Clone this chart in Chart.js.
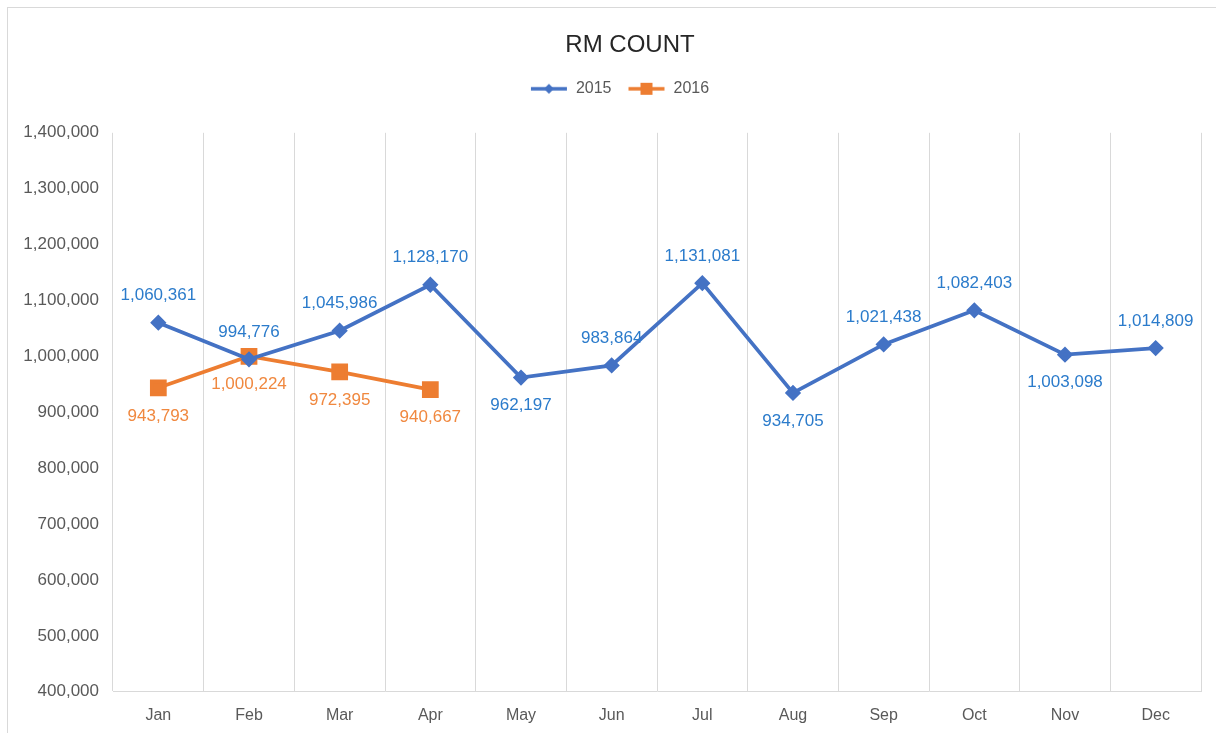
<!DOCTYPE html>
<html>
<head>
<meta charset="utf-8">
<script src="https://cdn.jsdelivr.net/npm/chart.js@4/dist/chart.umd.min.js"></script>
<style>
  html, body { margin: 0; padding: 0; background: #fff; }
  #wrap { position: relative; width: 1216px; height: 733px; }
  #frame { position: absolute; left: 7px; top: 7px; width: 1220px; height: 740px; border: 1px solid #d9d9d9; box-sizing: border-box; pointer-events: none; }
</style>
</head>
<body>
<div id="wrap">
  <canvas id="rmChart" width="1216" height="733"></canvas>
  <div id="frame"></div>
</div>
<script>
const months = ['Jan', 'Feb', 'Mar', 'Apr', 'May', 'Jun', 'Jul', 'Aug', 'Sep', 'Oct', 'Nov', 'Dec'];
const count2015 = [1060361, 994776, 1045986, 1128170, 962197, 983864, 1131081, 934705, 1021438, 1082403, 1003098, 1014809];
const count2016 = [943793, 1000224, 972395, 940667];

// where each data label sits relative to its point
const labelSide2015 = ['up', 'up', 'up', 'up', 'down', 'up', 'up', 'down', 'up', 'up', 'down', 'up'];
const labelSide2016 = ['down', 'down', 'down', 'down'];

const FONT = "'Liberation Sans', Arial, sans-serif";

function legendIcon(color, marker) {
    const c = document.createElement('canvas');
    c.width = 38; c.height = 16;
    const g = c.getContext('2d');
    g.strokeStyle = color;
    g.fillStyle = color;
    g.lineWidth = 3.5;
    g.beginPath(); g.moveTo(1, 8); g.lineTo(37, 8); g.stroke();
    if (marker === 'diamond') {
        g.beginPath(); g.moveTo(19, 3); g.lineTo(24, 8); g.lineTo(19, 13); g.lineTo(14, 8); g.closePath(); g.fill();
    } else {
        g.fillRect(13, 2, 12, 12);
    }
    return c;
}

const icons = [legendIcon('#4472C4', 'diamond'), legendIcon('#ED7D31', 'square')];

const dataLabels = {
    id: 'dataLabels',
    afterDatasetsDraw(chart) {
        const ctx = chart.ctx;
        const sides = [labelSide2015, labelSide2016];
        const colors = ['#2B7BCB', '#F0883F'];
        ctx.save();
        ctx.font = '17px ' + FONT;
        ctx.textAlign = 'center';
        ctx.textBaseline = 'middle';
        chart.data.datasets.forEach((ds, i) => {
            const meta = chart.getDatasetMeta(i);
            ctx.fillStyle = colors[i];
            meta.data.forEach((pt, j) => {
                const v = ds.data[j];
                const dy = sides[i][j] === 'up' ? -27 : 28;
                ctx.fillText(v.toLocaleString('en-US'), pt.x, pt.y + dy);
            });
        });
        ctx.restore();
    }
};

const headerShift = {
    id: 'headerShift',
    beforeInit(chart) {
        const fit = chart.legend.fit;
        chart.legend.fit = function () {
            fit.bind(chart.legend)();
            this.height += 26;
        };
    },
    afterLayout(chart) {
        // the original chart frame is wider than the picture, so its header sits right of centre
        chart.titleBlock.left += 59;
        chart.legend.left += 19;
        chart.legend.right += 19;
    }
};

const ctx = document.getElementById('rmChart').getContext('2d');
const chart = new Chart(ctx, {
    type: 'line',
    data: {
        labels: months,
        datasets: [
            {
                label: '2015',
                data: count2015,
                borderColor: '#4472C4',
                backgroundColor: '#4472C4',
                borderWidth: 3.75,
                pointStyle: 'rectRot',
                pointRadius: 5.5,
                pointHoverRadius: 5.5,
                tension: 0,
            },
            {
                label: '2016',
                data: count2016,
                borderColor: '#ED7D31',
                backgroundColor: '#ED7D31',
                borderWidth: 3.75,
                pointStyle: 'rect',
                pointRadius: 9.2,
                pointHoverRadius: 9.2,
                tension: 0,
            },
        ],
    },
    options: {
        responsive: false,
        animation: false,
        layout: { padding: { left: 0, right: 15, top: 0, bottom: 0 } },
        plugins: {
            title: {
                display: true,
                text: 'RM COUNT',
                color: '#262626',
                font: { family: FONT, size: 24, weight: 'normal' },
                padding: { top: 31, bottom: 5 },
            },
            legend: {
                position: 'top',
                labels: {
                    usePointStyle: true,
                    pointStyleWidth: 38,
                    color: '#595959',
                    font: { family: FONT, size: 16 },
                    padding: 16,
                    generateLabels(chart) {
                        return Chart.defaults.plugins.legend.labels.generateLabels(chart).map((l, i) => {
                            l.pointStyle = icons[i];
                            return l;
                        });
                    },
                },
            },
            tooltip: { enabled: false },
        },
        scales: {
            x: {
                offset: true,
                grid: { display: true, offset: true, color: '#d9d9d9', drawTicks: false },
                border: { display: true, color: '#d9d9d9' },
                ticks: { color: '#595959', font: { family: FONT, size: 16 }, padding: 14 },
                afterFit(scale) { scale.height -= 6; },
            },
            y: {
                min: 400000,
                max: 1400000,
                grid: { display: false, drawTicks: false },
                border: { display: false },
                ticks: {
                    stepSize: 100000,
                    color: '#595959',
                    font: { family: FONT, size: 17 },
                    padding: 14,
                    callback: v => v.toLocaleString('en-US'),
                },
                afterFit(scale) { scale.width = 113; },
            },
        },
    },
    plugins: [dataLabels, headerShift],
});
</script>
</body>
</html>
